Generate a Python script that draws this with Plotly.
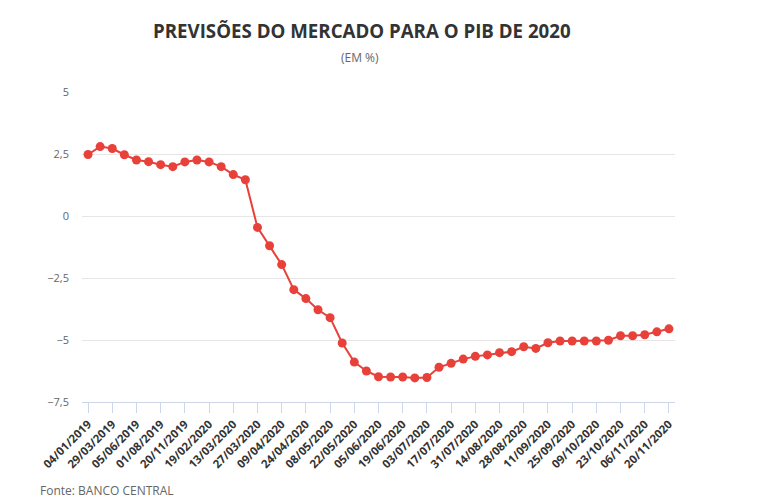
import plotly.graph_objects as go

dates = [
    "04/01/2019", "15/02/2019", "29/03/2019", "30/04/2019", "05/06/2019", "28/06/2019",
    "01/08/2019", "27/09/2019", "20/11/2019", "27/12/2019", "19/02/2020", "06/03/2020",
    "13/03/2020", "20/03/2020", "27/03/2020", "03/04/2020", "09/04/2020", "17/04/2020",
    "24/04/2020", "30/04/2020", "08/05/2020", "15/05/2020", "22/05/2020", "29/05/2020",
    "05/06/2020", "12/06/2020", "19/06/2020", "26/06/2020", "03/07/2020", "10/07/2020",
    "17/07/2020", "24/07/2020", "31/07/2020", "07/08/2020", "14/08/2020", "21/08/2020",
    "28/08/2020", "04/09/2020", "11/09/2020", "18/09/2020", "25/09/2020", "02/10/2020",
    "09/10/2020", "16/10/2020", "23/10/2020", "30/10/2020", "06/11/2020", "13/11/2020",
    "20/11/2020",
]

pib = [
    2.48, 2.80, 2.72, 2.47, 2.26, 2.19, 2.07, 1.99, 2.18, 2.26, 2.18, 1.99,
    1.67, 1.46, -0.46, -1.20, -1.96, -2.97, -3.33, -3.78, -4.10, -5.12, -5.89, -6.25,
    -6.48, -6.49, -6.49, -6.53, -6.51, -6.10, -5.94, -5.77, -5.66, -5.60, -5.51, -5.47,
    -5.27, -5.34, -5.11, -5.04, -5.04, -5.04, -5.04, -5.01, -4.83, -4.83, -4.79, -4.67,
    -4.55,
]

tick_dates = dates[::2]
y_ticks = [5, 2.5, 0, -2.5, -5, -7.5]

# page has an 8px body margin; figure coordinates are offset by it
OFF = 8
W, H = 768, 492
pl, pr, pt, pb = 82 - OFF, 101, 92 - OFF, 98
pw, ph = W - pl - pr, H - pt - pb


def px(xp):
    return (xp - OFF - pl) / pw


def py(yp):
    return (H - pb - (yp - OFF)) / ph


fig = go.Figure()
fig.add_trace(go.Scatter(
    x=dates, y=pib, mode="lines+markers",
    line=dict(color="#e8413a", width=2),
    marker=dict(color="#e8413a", size=9),
    showlegend=False,
))

fig.update_layout(
    width=W, height=H,
    margin=dict(l=pl, r=pr, t=pt, b=pb),
    paper_bgcolor="white", plot_bgcolor="white",
    separators=",.",
    font=dict(family="Open Sans", color="#666666"),
    xaxis=dict(
        type="category", range=[-0.5, len(dates) - 0.5],
        tickmode="array", tickvals=tick_dates, ticktext=tick_dates,
        tickangle=-45, ticks="outside", ticklen=10, tickcolor="#ccd6eb",
        showline=True, linecolor="#ccd6eb", linewidth=1,
        showgrid=False, zeroline=False,
        tickfont=dict(family="Open Sans", size=11.5, color="#333333", weight="bold"),
    ),
    yaxis=dict(
        range=[-7.5, 5], tickmode="array", tickvals=y_ticks,
        showgrid=True, gridcolor="#e6e6e6", zeroline=False, showline=False,
        tickfont=dict(family="Open Sans", size=11, color="#666666"),
        ticks="", ticklabelstandoff=12,
    ),
)

fig.add_annotation(text="<b>PREVISÕES DO MERCADO PARA O PIB DE 2020</b>",
                   x=px(362), y=py(30), xref="paper", yref="paper", showarrow=False,
                   xanchor="center", yanchor="middle",
                   font=dict(family="Open Sans", size=18.7, color="#333333"))
fig.add_annotation(text="(EM %)", x=px(360), y=py(57), xref="paper", yref="paper",
                   showarrow=False, xanchor="center", yanchor="middle",
                   font=dict(family="Open Sans", size=12, color="#666666"))
fig.add_annotation(text="Fonte: BANCO CENTRAL", x=px(38), y=py(490), xref="paper", yref="paper",
                   showarrow=False, xanchor="left", yanchor="middle",
                   font=dict(family="Open Sans", size=12, color="#666666"))

fig.write_html("out.html")
